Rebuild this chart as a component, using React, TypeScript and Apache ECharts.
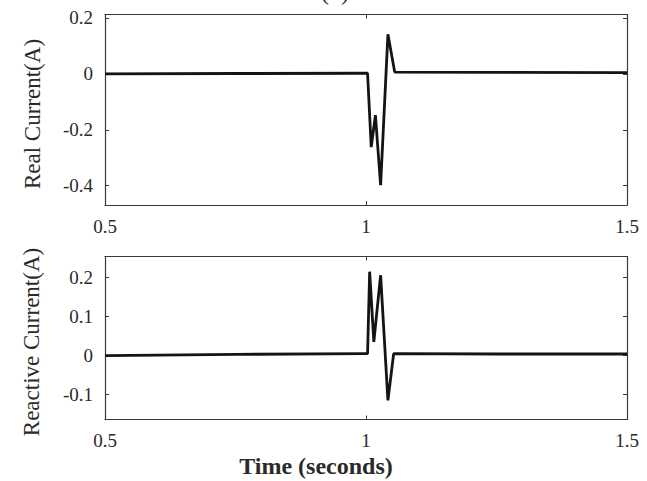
import React, { useEffect, useRef } from "react";
import * as echarts from "echarts";

// Time (seconds) and values
const timeReal = [0.5, 0.75, 1.0, 1.003, 1.01, 1.018, 1.028, 1.042, 1.055, 1.25, 1.5];
const realCurrent = [0.0, 0.001, 0.002, 0.002, -0.262, -0.148, -0.398, 0.141, 0.006, 0.005, 0.004];

const timeReactive = [0.5, 0.75, 1.0, 1.003, 1.007, 1.015, 1.028, 1.042, 1.053, 1.25, 1.5];
const reactiveCurrent = [0.0, 0.003, 0.005, 0.005, 0.215, 0.035, 0.206, -0.115, 0.005, 0.004, 0.004];

const xTicks = [0.5, 1, 1.5];
const realTicks = [-0.4, -0.2, 0, 0.2];
const reactiveTicks = [-0.1, 0, 0.1, 0.2];

const FONT = "Liberation Serif";
const AXIS_COLOR = "#3a3a3a";
const TEXT_COLOR = "#2a2a2a";
const LINE_COLOR = "#141414";

export default function App() {
  const ref = useRef<HTMLDivElement>(null);

  useEffect(() => {
    document.body.style.margin = "0";
    const chart = echarts.init(ref.current!, null, { renderer: "svg" });

    const xAxis = (gridIndex: number, position: "bottom" | "top", labels: boolean, margin: number) => ({
      type: "value",
      gridIndex,
      position,
      min: 0.5,
      max: 1.5,
      axisLine: { show: true, onZero: false, lineStyle: { color: AXIS_COLOR, width: 1.2 } },
      axisTick: { show: true, inside: true, length: 4, customValues: xTicks, lineStyle: { color: AXIS_COLOR } },
      axisLabel: {
        show: labels,
        customValues: xTicks,
        margin,
        fontFamily: FONT,
        fontSize: 19,
        color: TEXT_COLOR,
        showMinLabel: true,
        showMaxLabel: true,
      },
      splitLine: { show: false },
    });

    const yAxis = (
      gridIndex: number,
      position: "left" | "right",
      labels: boolean,
      min: number,
      max: number,
      ticks: number[]
    ) => ({
      type: "value",
      gridIndex,
      position,
      min,
      max,
      axisLine: { show: true, onZero: false, lineStyle: { color: AXIS_COLOR, width: 1.2 } },
      axisTick: { show: true, inside: true, length: 4, customValues: ticks, lineStyle: { color: AXIS_COLOR } },
      axisLabel: {
        show: labels,
        customValues: ticks,
        margin: 12,
        fontFamily: FONT,
        fontSize: 19,
        color: TEXT_COLOR,
      },
      splitLine: { show: false },
    });

    chart.setOption({
      animation: false,
      backgroundColor: "#ffffff",
      grid: [
        { left: 105, width: 522, top: 14.5, height: 190.5 },
        { left: 105, width: 522, top: 256.5, height: 163 },
      ],
      xAxis: [
        xAxis(0, "bottom", true, 12),
        xAxis(0, "top", false, 8),
        xAxis(1, "bottom", true, 11),
        xAxis(1, "top", false, 8),
      ],
      yAxis: [
        yAxis(0, "left", true, -0.469, 0.212, realTicks),
        yAxis(0, "right", false, -0.469, 0.212, realTicks),
        yAxis(1, "left", true, -0.164, 0.254, reactiveTicks),
        yAxis(1, "right", false, -0.164, 0.254, reactiveTicks),
      ],
      series: [
        {
          type: "line",
          xAxisIndex: 0,
          yAxisIndex: 0,
          data: timeReal.map((t, i) => [t, realCurrent[i]]),
          showSymbol: false,
          lineStyle: { color: LINE_COLOR, width: 2.8 },
        },
        {
          type: "line",
          xAxisIndex: 2,
          yAxisIndex: 2,
          data: timeReactive.map((t, i) => [t, reactiveCurrent[i]]),
          showSymbol: false,
          lineStyle: { color: LINE_COLOR, width: 2.8 },
        },
      ],
      graphic: [
        {
          type: "text",
          x: 335,
          y: 4,
          style: {
            text: "(b)",
            fontFamily: FONT,
            fontSize: 24,
            fill: TEXT_COLOR,
            textAlign: "center",
            textVerticalAlign: "bottom",
          },
        },
        {
          type: "text",
          x: 32,
          y: 114,
          rotation: Math.PI / 2,
          style: {
            text: "Real Current(A)",
            fontFamily: FONT,
            fontSize: 23,
            fill: TEXT_COLOR,
            textAlign: "center",
            textVerticalAlign: "middle",
          },
        },
        {
          type: "text",
          x: 31,
          y: 342,
          rotation: Math.PI / 2,
          style: {
            text: "Reactive Current(A)",
            fontFamily: FONT,
            fontSize: 23,
            fill: TEXT_COLOR,
            textAlign: "center",
            textVerticalAlign: "middle",
          },
        },
        {
          type: "text",
          x: 316,
          y: 466,
          style: {
            text: "Time (seconds)",
            fontFamily: FONT,
            fontSize: 24,
            fontWeight: "bold",
            fill: TEXT_COLOR,
            textAlign: "center",
            textVerticalAlign: "middle",
          },
        },
      ],
    });

    return () => chart.dispose();
  }, []);

  return <div ref={ref} style={{ width: 647, height: 481 }} />;
}
